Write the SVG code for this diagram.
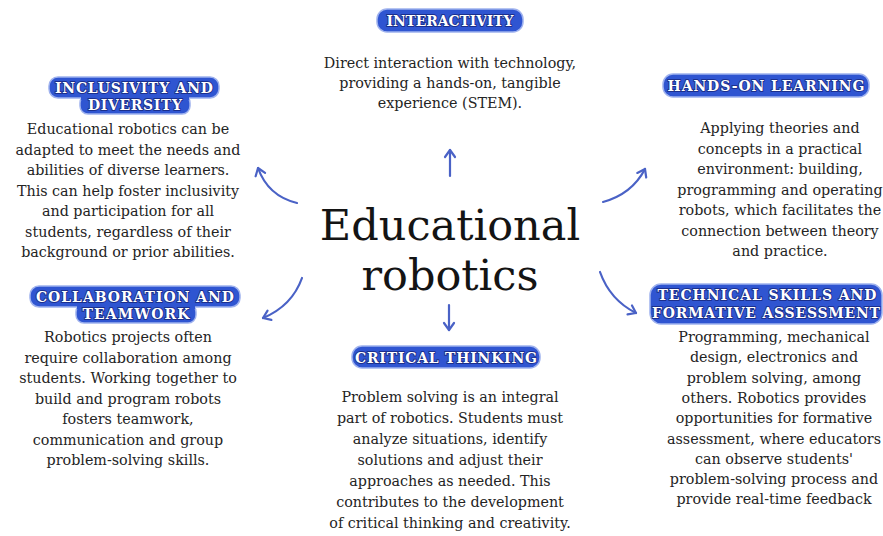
<svg xmlns="http://www.w3.org/2000/svg" width="883" height="536" viewBox="0 0 883 536">
<defs>
<style>
.pill{fill:#2f55d1;stroke:#9fb2ee;stroke-width:1.5}
.lbl{font-family:"DejaVu Serif","Liberation Serif",serif;font-weight:bold;font-size:14px;fill:#ffffff;stroke:#1b2f8c;stroke-width:1.8px;paint-order:stroke;text-anchor:middle;dominant-baseline:central}
.body{font-family:"DejaVu Serif","Liberation Serif",serif;font-size:14.3px;fill:#242424;text-anchor:middle}
.title{font-family:"DejaVu Serif","Liberation Serif",serif;font-size:43px;fill:#141414;text-anchor:middle}
.arr{fill:none;stroke:#4a62c6;stroke-width:2.2;stroke-linecap:round;marker-end:url(#ah)}
</style>
<marker id="ah" viewBox="-9 -7 11 14" refX="0" refY="0" markerWidth="11" markerHeight="14" markerUnits="userSpaceOnUse" orient="auto">
<path d="M-7,-5 L0,0 L-7,5" fill="none" stroke="#4a62c6" stroke-width="2.2" stroke-linecap="round" stroke-linejoin="round"/>
</marker>
</defs>
<rect width="883" height="536" fill="#ffffff"/>

<g id="center">
<text class="title" x="450" y="240">Educational</text>
<text class="title" x="450" y="290">robotics</text>
</g>

<g id="connectors">
<path class="arr" d="M450,176 L450,150"/>
<path class="arr" d="M297,203 Q268,196 258,168"/>
<path class="arr" d="M603,202 Q632,194 645,169"/>
<path class="arr" d="M302,278 Q292,306 263,318"/>
<path class="arr" d="M449,305 L449,330"/>
<path class="arr" d="M600,272 Q610,300 636,313"/>
</g>

<g id="interactivity">
<rect class="pill" x="377" y="9" width="146" height="23" rx="10"/>
<text class="lbl" x="450" y="20.5" textLength="127">INTERACTIVITY</text>
<text class="body" x="450" y="68">Direct interaction with technology,<tspan x="450" dy="20">providing a hands-on, tangible</tspan><tspan x="450" dy="20">experience (STEM).</tspan></text>
</g>

<g id="inclusivity">
<rect class="pill" x="49" y="77" width="170" height="21" rx="9"/>
<rect class="pill" x="80" y="95" width="110" height="19" rx="8"/>
<rect x="81" y="94" width="108" height="6" fill="#2f55d1"/>
<text class="lbl" x="134" y="88" textLength="158">INCLUSIVITY AND</text>
<text class="lbl" x="135" y="105" textLength="94">DIVERSITY</text>
<text class="body" x="128" y="134">Educational robotics can be<tspan x="128" dy="20.5">adapted to meet the needs and</tspan><tspan x="128" dy="20.5">abilities of diverse learners.</tspan><tspan x="128" dy="20.5">This can help foster inclusivity</tspan><tspan x="128" dy="20.5">and participation for all</tspan><tspan x="128" dy="20.5">students, regardless of their</tspan><tspan x="128" dy="20.5">background or prior abilities.</tspan></text>
</g>

<g id="hands-on">
<rect class="pill" x="663" y="74" width="206" height="23" rx="10"/>
<text class="lbl" x="766" y="86" textLength="197">HANDS-ON LEARNING</text>
<text class="body" x="780" y="133">Applying theories and<tspan x="780" dy="20.5">concepts in a practical</tspan><tspan x="780" dy="20.5">environment: building,</tspan><tspan x="780" dy="20.5">programming and operating</tspan><tspan x="780" dy="20.5">robots, which facilitates the</tspan><tspan x="780" dy="20.5">connection between theory</tspan><tspan x="780" dy="20.5">and practice.</tspan></text>
</g>

<g id="collaboration">
<rect class="pill" x="30" y="286" width="210" height="21" rx="9"/>
<rect class="pill" x="76" y="304" width="120" height="19" rx="8"/>
<rect x="77" y="303" width="118" height="6" fill="#2f55d1"/>
<text class="lbl" x="135" y="297" textLength="198">COLLABORATION AND</text>
<text class="lbl" x="136" y="313.5" textLength="107">TEAMWORK</text>
<text class="body" x="128" y="342">Robotics projects often<tspan x="128" dy="20.5">require collaboration among</tspan><tspan x="128" dy="20.5">students. Working together to</tspan><tspan x="128" dy="20.5">build and program robots</tspan><tspan x="128" dy="20.5">fosters teamwork,</tspan><tspan x="128" dy="20.5">communication and group</tspan><tspan x="128" dy="20.5">problem-solving skills.</tspan></text>
</g>

<g id="critical">
<rect class="pill" x="352" y="346" width="188" height="22" rx="10"/>
<text class="lbl" x="446" y="357.5" textLength="182">CRITICAL THINKING</text>
<text class="body" x="450" y="402">Problem solving is an integral<tspan x="450" dy="21">part of robotics. Students must</tspan><tspan x="450" dy="21">analyze situations, identify</tspan><tspan x="450" dy="21">solutions and adjust their</tspan><tspan x="450" dy="21">approaches as needed. This</tspan><tspan x="450" dy="21">contributes to the development</tspan><tspan x="450" dy="21">of critical thinking and creativity.</tspan></text>
</g>

<g id="technical">
<rect class="pill" x="650" y="284" width="232" height="40" rx="11"/>
<text class="lbl" x="767" y="295" textLength="219">TECHNICAL SKILLS AND</text>
<text class="lbl" x="766" y="312.5" textLength="228">FORMATIVE ASSESSMENT</text>
<text class="body" x="774" y="342">Programming, mechanical<tspan x="774" dy="20.3">design, electronics and</tspan><tspan x="774" dy="20.3">problem solving, among</tspan><tspan x="774" dy="20.3">others. Robotics provides</tspan><tspan x="774" dy="20.3">opportunities for formative</tspan><tspan x="774" dy="20.3">assessment, where educators</tspan><tspan x="774" dy="20.3">can observe students'</tspan><tspan x="774" dy="20.3">problem-solving process and</tspan><tspan x="774" dy="20.3">provide real-time feedback</tspan></text>
</g>
</svg>
